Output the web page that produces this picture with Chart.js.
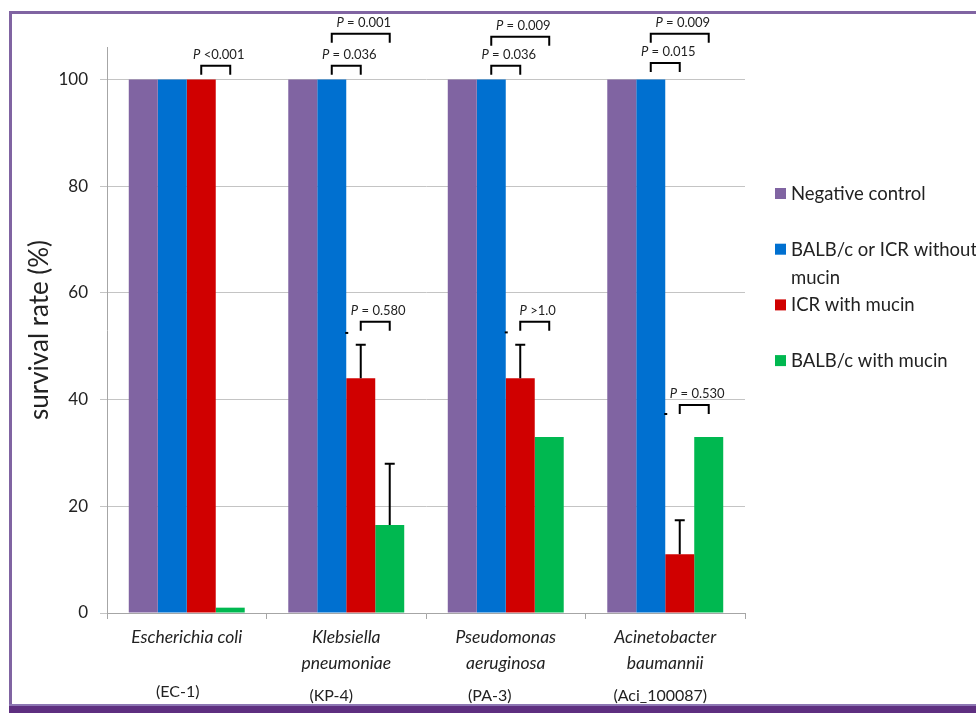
<!DOCTYPE html>
<html>
<head>
<meta charset="utf-8">
<script src="https://cdn.jsdelivr.net/npm/chart.js@4.4.1/dist/chart.umd.min.js"></script>
<style>
  html, body { margin: 0; padding: 0; background: #fff; }
  canvas { display: block; }
</style>
</head>
<body>
<canvas id="chart" width="976" height="713"></canvas>
<script>
const categories = [['Escherichia coli'], ['Klebsiella', 'pneumoniae'], ['Pseudomonas', 'aeruginosa'], ['Acinetobacter', 'baumannii']];
const strains = ['(EC-1)', '(KP-4)', '(PA-3)', '(Aci_100087)'];
const seriesNames = ['Negative control', 'BALB/c or ICR without mucin', 'ICR with mucin', 'BALB/c with mucin'];
const seriesColors = ['#8064a2', '#0070d0', '#d00000', '#00b850'];

const negativeControl = [100, 100, 100, 100];
const withoutMucin = [100, 100, 100, 100];
const icrMucin = [100, 44, 44, 11];
const balbMucin = [1, 16.5, 33, 33];

// top of the (upward only) error bars, null = no bar
const icrMucinErr = [null, 50.3, 50.3, 17.4];
const balbMucinErr = [null, 28, null, null];

const yTicks = [0, 20, 40, 60, 80, 100];

// P value brackets: [category, from series, to series, bracket height, text after "P"]
const pBrackets = [
    [0, 2, 3, 102.6, '<0.001'],
    [1, 1, 2, 102.6, '= 0.036'],
    [1, 1, 3, 108.6, '= 0.001'],
    [2, 1, 2, 102.6, '= 0.036'],
    [2, 1, 3, 108.0, '= 0.009'],
    [3, 1, 2, 103.1, '= 0.015'],
    [3, 1, 3, 108.6, '= 0.009'],
    [1, 2, 3, 54.6, '= 0.580'],
    [2, 2, 3, 54.6, '>1.0'],
    [3, 2, 3, 39.0, '= 0.530']
];

// little leftover dashes next to the blue bars: [category, value]
const strayDashes = [[1, 52.5], [2, 52.6], [3, 37.3]];

// strain labels sit a bit off the category centre in the original (px)
const strainShift = [[-9, 692], [-15, 696], [-16, 696], [-5, 696]];

const FONT = 'Lato, "Noto Sans", sans-serif';

function drawP(ctx, cx, cy, rest) {
    ctx.font = 'italic 13px ' + FONT;
    const wP = ctx.measureText('P').width;
    ctx.font = '13px ' + FONT;
    const wR = ctx.measureText(' ' + rest).width;
    let x = cx - (wP + wR) / 2;
    ctx.textAlign = 'left';
    ctx.textBaseline = 'middle';
    ctx.fillStyle = '#222';
    ctx.font = 'italic 13px ' + FONT;
    ctx.fillText('P', x, cy);
    ctx.font = '13px ' + FONT;
    ctx.fillText(' ' + rest, x + wP, cy);
}

const extras = {
    id: 'extras',
    beforeDraw(chart) {
        const ctx = chart.ctx;
        ctx.save();
        ctx.fillStyle = '#fff';
        ctx.fillRect(0, 0, chart.width, chart.height);
        ctx.restore();
    },
    afterDraw(chart) {
        const ctx = chart.ctx;
        const y = chart.scales.y;
        const x = chart.scales.x;
        const bar = (s, c) => chart.getDatasetMeta(s).data[c];
        ctx.save();
        ctx.strokeStyle = '#000';
        ctx.lineWidth = 2;

        // error bars
        [[2, icrMucinErr], [3, balbMucinErr]].forEach(([s, errs]) => {
            errs.forEach((v, c) => {
                if (v == null) return;
                const b = bar(s, c);
                const top = y.getPixelForValue(v);
                ctx.beginPath();
                ctx.moveTo(b.x, b.y);
                ctx.lineTo(b.x, top);
                ctx.moveTo(b.x - 5, top);
                ctx.lineTo(b.x + 5, top);
                ctx.stroke();
            });
        });

        strayDashes.forEach(([c, v]) => {
            const b = bar(1, c);
            const py = y.getPixelForValue(v);
            ctx.beginPath();
            ctx.moveTo(b.x + b.width / 2 - 1, py);
            ctx.lineTo(b.x + b.width / 2 + 2, py);
            ctx.stroke();
        });

        // brackets
        pBrackets.forEach(([c, s1, s2, h, txt]) => {
            const x1 = bar(s1, c).x;
            const x2 = bar(s2, c).x;
            const py = y.getPixelForValue(h);
            ctx.beginPath();
            ctx.moveTo(x1, py + 9);
            ctx.lineTo(x1, py);
            ctx.lineTo(x2, py);
            ctx.lineTo(x2, py + 9);
            ctx.stroke();
            drawP(ctx, (x1 + x2) / 2 + 3, py - 11, txt);
        });

        // strain labels under the species names
        ctx.fillStyle = '#222';
        ctx.font = '16px ' + FONT;
        ctx.textAlign = 'center';
        ctx.textBaseline = 'middle';
        strains.forEach((s, i) => {
            ctx.fillText(s, x.getPixelForValue(i) + strainShift[i][0], strainShift[i][1]);
        });

        // legend
        ctx.font = '18.5px ' + FONT;
        ctx.textAlign = 'left';
        chart.data.datasets.forEach((ds, i) => {
            const ly = 194 + i * 55.7;
            ctx.fillStyle = ds.backgroundColor;
            ctx.fillRect(775, ly - 6, 11, 11);
            ctx.fillStyle = '#222';
            const words = ds.label.split(' ');
            let line = '';
            let row = 0;
            words.forEach(w => {
                const test = line ? line + ' ' + w : w;
                if (ctx.measureText(test).width > 192 && line) {
                    ctx.fillText(line, 791, ly + row * 28);
                    row++;
                    line = w;
                } else {
                    line = test;
                }
            });
            ctx.fillText(line, 791, ly + row * 28);
        });

        // frame
        ctx.fillStyle = '#8064a2';
        ctx.fillRect(9, 11, 967, 3);
        ctx.fillRect(9, 11, 3, 695);
        ctx.fillStyle = '#8d76b3';
        ctx.fillRect(9, 704, 967, 2);
        ctx.fillStyle = '#5e2f80';
        ctx.fillRect(9, 706, 967, 7);
        ctx.restore();
    }
};

const datasets = [negativeControl, withoutMucin, icrMucin, balbMucin].map((d, i) => ({
    label: seriesNames[i],
    data: d,
    backgroundColor: seriesColors[i],
    borderWidth: 0,
    categoryPercentage: 0.727,
    barPercentage: 1
}));

new Chart(document.getElementById('chart'), {
    type: 'bar',
    data: { labels: categories, datasets: datasets },
    options: {
        responsive: false,
        animation: false,
        events: [],
        layout: { padding: { left: 0, right: 231, top: 47, bottom: 0 } },
        plugins: {
            legend: { display: false },
            tooltip: { enabled: false }
        },
        scales: {
            x: {
                grid: { drawOnChartArea: false, drawTicks: true, tickLength: 6, color: '#a6a6a6', offset: true },
                border: { color: '#a6a6a6' },
                ticks: {
                    color: '#222',
                    padding: 5,
                    maxRotation: 0,
                    font: { family: FONT, size: 17.5, style: 'italic', lineHeight: 1.5 }
                },
                afterFit(s) { s.height = 100; }
            },
            y: {
                min: 0,
                max: 106.1,
                afterBuildTicks(s) { s.ticks = yTicks.map(v => ({ value: v })); },
                grid: { color: '#c4c4c4', tickLength: 7 },
                border: { color: '#a6a6a6' },
                ticks: { color: '#222', padding: 12, font: { family: FONT, size: 17 } },
                title: {
                    display: true,
                    text: 'survival rate (%)',
                    color: '#222',
                    font: { family: FONT, size: 26 },
                    padding: { top: 24, bottom: 0 }
                },
                afterFit(s) { s.width = 107; }
            }
        }
    },
    plugins: [extras]
});
</script>
</body>
</html>
